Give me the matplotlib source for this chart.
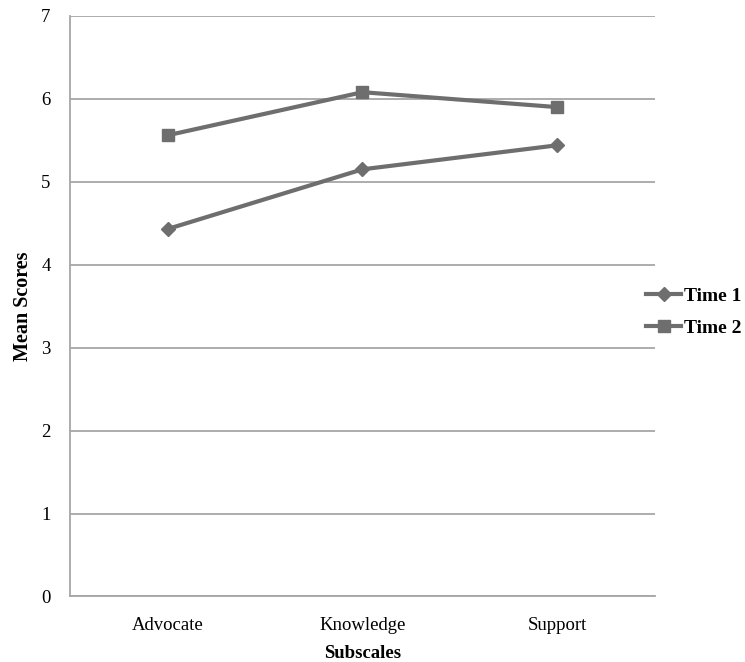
import numpy as np
import matplotlib.pyplot as plt

plt.rcParams['font.family'] = ['Liberation Serif', 'DejaVu Serif']

subscales = ["Advocate", "Knowledge", "Support"]
time1 = [4.43, 5.15, 5.44]
time2 = [5.56, 6.08, 5.90]

line_col = "#6e6e6e"
grid_col = "#a6a6a6"

fig = plt.figure(figsize=(7.45, 6.62), dpi=100)
ax = fig.add_axes([0.094, 0.099, 0.785, 0.877])

x = np.arange(len(subscales))
ax.plot(x, time1, color=line_col, lw=3, marker="D", ms=7, label="Time 1")
ax.plot(x, time2, color=line_col, lw=3, marker="s", ms=8.5, label="Time 2")

ax.set_xlim(-0.5, 2.5)
ax.set_ylim(0, 7)
ax.set_yticks(range(0, 8))
ax.yaxis.grid(True, color=grid_col, lw=1.3)
ax.set_axisbelow(True)
for s in ["top", "right"]:
    ax.spines[s].set_visible(False)
for s in ["left", "bottom"]:
    ax.spines[s].set_color(grid_col)
    ax.spines[s].set_linewidth(1.3)
ax.tick_params(length=0, labelsize=13.5, colors="black")
ax.tick_params(axis="y", pad=14)
ax.tick_params(axis="x", pad=15)
ax.set_xticks(x)
ax.set_xticklabels(subscales)

ax.set_ylabel("Mean Scores", fontsize=14.5, fontweight="bold", labelpad=6)
ax.set_xlabel("Subscales", fontsize=13.5, fontweight="bold", labelpad=8)

leg = ax.legend(loc="center left", bbox_to_anchor=(0.985, 0.49), frameon=False,
                prop={"weight": "bold", "size": 14}, handlelength=1.8,
                handletextpad=0.15, labelspacing=0.75, borderpad=0,
                borderaxespad=0)

fig.savefig("out.png", dpi=100)
